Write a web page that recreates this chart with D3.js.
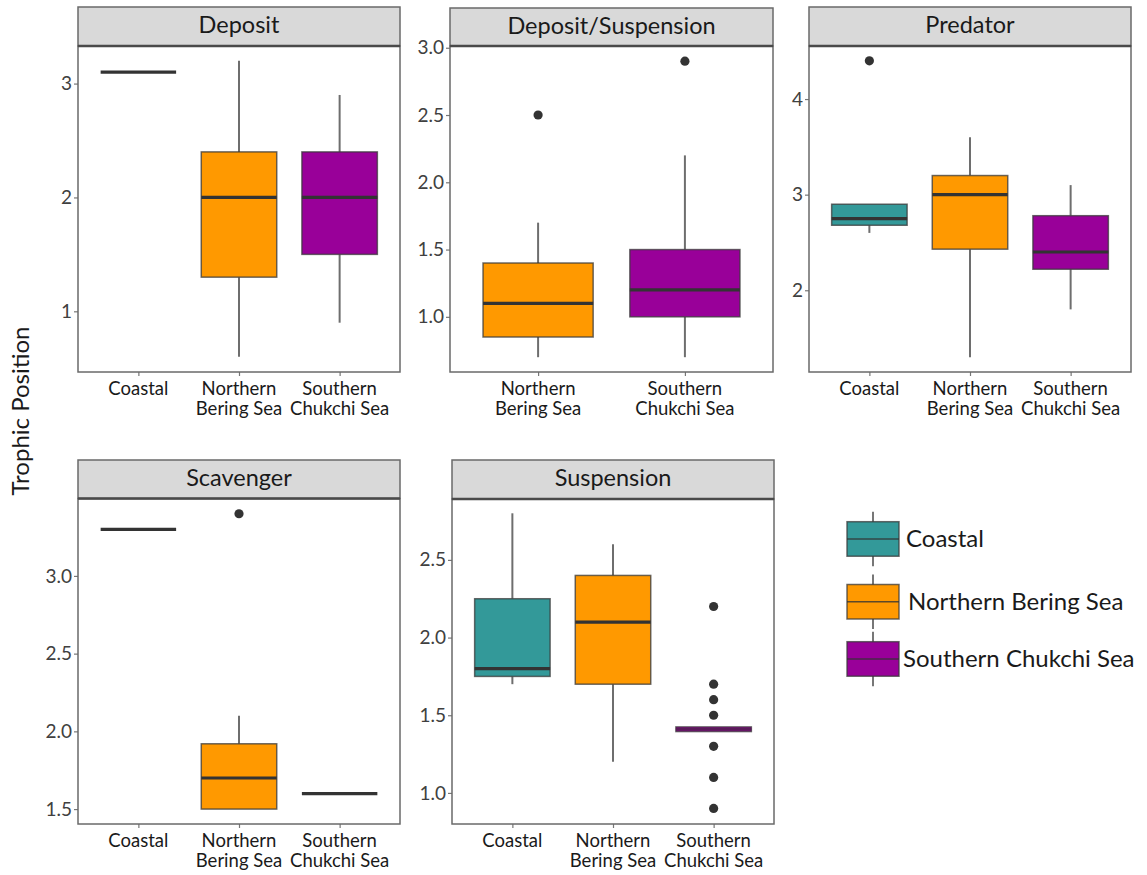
<!DOCTYPE html>
<html>
<head>
<meta charset="utf-8">
<script src="https://cdn.jsdelivr.net/npm/d3@7"></script>
<style>
  html, body { margin: 0; padding: 0; background: #fff; }
  svg { display: block; font-family: Lato, "Open Sans", sans-serif; }
</style>
</head>
<body>
<svg id="chart" width="1147" height="875"></svg>
<script>
// ---------- DATA ----------
const regions = ["Coastal", "Northern Bering Sea", "Southern Chukchi Sea"];
const regionColors = ["#339999", "#FF9900", "#990099"];
const facetNames = ["Deposit", "Deposit/Suspension", "Predator", "Scavenger", "Suspension"];

// box stats: [lower whisker, q1, median, q3, upper whisker]
const depositGroups = ["Coastal", "Northern Bering Sea", "Southern Chukchi Sea"];
const depositStats = [[3.1, 3.1, 3.1, 3.1, 3.1], [0.6, 1.3, 2.0, 2.4, 3.2], [0.9, 1.5, 2.0, 2.4, 2.9]];
const depositOutliers = [[], [], []];
const depositTicks = [1, 2, 3];

const depSuspGroups = ["Northern Bering Sea", "Southern Chukchi Sea"];
const depSuspStats = [[0.7, 0.85, 1.1, 1.4, 1.7], [0.7, 1.0, 1.2, 1.5, 2.2]];
const depSuspOutliers = [[2.5], [2.9]];
const depSuspTicks = [1.0, 1.5, 2.0, 2.5, 3.0];

const predatorGroups = ["Coastal", "Northern Bering Sea", "Southern Chukchi Sea"];
const predatorStats = [[2.6, 2.68, 2.75, 2.9, 2.9], [1.3, 2.43, 3.0, 3.2, 3.6], [1.8, 2.22, 2.4, 2.78, 3.1]];
const predatorOutliers = [[4.4], [], []];
const predatorTicks = [2, 3, 4];

const scavengerGroups = ["Coastal", "Northern Bering Sea", "Southern Chukchi Sea"];
const scavengerStats = [[3.3, 3.3, 3.3, 3.3, 3.3], [1.5, 1.5, 1.7, 1.92, 2.1], [1.6, 1.6, 1.6, 1.6, 1.6]];
const scavengerOutliers = [[], [3.4], []];
const scavengerTicks = [1.5, 2.0, 2.5, 3.0];

const suspensionGroups = ["Coastal", "Northern Bering Sea", "Southern Chukchi Sea"];
const suspensionStats = [[1.7, 1.75, 1.8, 2.25, 2.8], [1.2, 1.7, 2.1, 2.4, 2.6], [1.395, 1.395, 1.41, 1.425, 1.425]];
const suspensionOutliers = [[], [], [2.2, 1.7, 1.6, 1.5, 1.3, 1.1, 0.9]];
const suspensionTicks = [1.0, 1.5, 2.0, 2.5];

const yAxisTitle = "Trophic Position";

// ---------- LAYOUT ----------
const panels = [
  { name: facetNames[0], groups: depositGroups, stats: depositStats, outliers: depositOutliers, ticks: depositTicks, fmt: d3.format("d"),
    x0: 78, x1: 400, sTop: 7, pTop: 46, pBot: 372, y: [0.467, 3.33] },
  { name: facetNames[1], groups: depSuspGroups, stats: depSuspStats, outliers: depSuspOutliers, ticks: depSuspTicks, fmt: d3.format(".1f"),
    x0: 450, x1: 773, sTop: 8, pTop: 46, pBot: 372, y: [0.59, 3.013] },
  { name: facetNames[2], groups: predatorGroups, stats: predatorStats, outliers: predatorOutliers, ticks: predatorTicks, fmt: d3.format("d"),
    x0: 809, x1: 1131, sTop: 7, pTop: 46, pBot: 372, y: [1.145, 4.555] },
  { name: facetNames[3], groups: scavengerGroups, stats: scavengerStats, outliers: scavengerOutliers, ticks: scavengerTicks, fmt: d3.format(".1f"),
    x0: 78, x1: 400, sTop: 460, pTop: 498.5, pBot: 824, y: [1.404, 3.498] },
  { name: facetNames[4], groups: suspensionGroups, stats: suspensionStats, outliers: suspensionOutliers, ticks: suspensionTicks, fmt: d3.format(".1f"),
    x0: 452, x1: 774, sTop: 460, pTop: 499, pBot: 824, y: [0.80, 2.892] }
];

const color = d3.scaleOrdinal().domain(regions).range(regionColors);
const svg = d3.select("#chart");

const labelLines = {
  "Coastal": ["Coastal"],
  "Northern Bering Sea": ["Northern", "Bering Sea"],
  "Southern Chukchi Sea": ["Southern", "Chukchi Sea"]
};

panels.forEach(p => {
  const g = svg.append("g");
  const x = d3.scalePoint().domain(p.groups).range([p.x0, p.x1]).padding(0.6);
  const y = d3.scaleLinear().domain(p.y).range([p.pBot, p.pTop]);
  const bw = x.step() * 0.75;

  g.append("rect").attr("x", p.x0).attr("y", p.pTop).attr("width", p.x1 - p.x0).attr("height", p.pBot - p.pTop)
    .attr("fill", "#fff");

  // y axis
  const yAxis = d3.axisLeft(y).tickValues(p.ticks).tickFormat(p.fmt).tickSize(4).tickPadding(2);
  const ya = g.append("g").attr("transform", `translate(${p.x0},0)`).call(yAxis);
  ya.select(".domain").remove();
  ya.selectAll(".tick line").attr("stroke", "#777").attr("stroke-width", 1.2);
  ya.selectAll(".tick text").attr("fill", "#404040").style("font-size", "19px").style("font-family", "Lato, sans-serif");

  // x axis
  const xAxis = d3.axisBottom(x).tickSize(4).tickFormat("");
  const xa = g.append("g").attr("transform", `translate(0,${p.pBot})`).call(xAxis);
  xa.select(".domain").remove();
  xa.selectAll(".tick line").attr("stroke", "#777").attr("stroke-width", 1.2);
  p.groups.forEach(grp => {
    const lines = labelLines[grp];
    const t = g.append("text").attr("x", x(grp)).attr("y", p.pBot + 23)
      .attr("text-anchor", "middle").attr("fill", "#1a1a1a").style("font-size", "18.5px");
    lines.forEach((ln, i) => {
      t.append("tspan").attr("x", x(grp)).attr("dy", i === 0 ? 0 : 20).text(ln);
    });
  });

  // boxes
  p.groups.forEach((grp, i) => {
    const s = p.stats[i];
    const cx = x(grp);
    if (s[4] > s[3]) g.append("line").attr("x1", cx).attr("x2", cx).attr("y1", y(s[3])).attr("y2", y(s[4]))
      .attr("stroke", "#6e6e6e").attr("stroke-width", 2);
    if (s[0] < s[1]) g.append("line").attr("x1", cx).attr("x2", cx).attr("y1", y(s[1])).attr("y2", y(s[0]))
      .attr("stroke", "#6e6e6e").attr("stroke-width", 2);
    g.append("rect").attr("x", cx - bw / 2).attr("y", y(s[3])).attr("width", bw)
      .attr("height", Math.max(0, y(s[1]) - y(s[3])))
      .attr("fill", color(grp)).attr("stroke", "#3a3a3a").attr("stroke-opacity", 0.75).attr("stroke-width", 1.5);
    g.append("line").attr("x1", cx - bw / 2).attr("x2", cx + bw / 2).attr("y1", y(s[2])).attr("y2", y(s[2]))
      .attr("stroke", grp === "Southern Chukchi Sea" && s[3] - s[1] < 0.05 && s[3] !== s[1] ? "#5a1a5a" : "#333")
      .attr("stroke-width", 3.2);
    p.outliers[i].forEach(v => {
      g.append("circle").attr("cx", cx).attr("cy", y(v)).attr("r", 4.6).attr("fill", "#333");
    });
  });

  // panel border
  g.append("rect").attr("x", p.x0).attr("y", p.pTop).attr("width", p.x1 - p.x0).attr("height", p.pBot - p.pTop)
    .attr("fill", "none").attr("stroke", "#6a6a6a").attr("stroke-width", 1.5);

  // strip
  g.append("rect").attr("x", p.x0).attr("y", p.sTop).attr("width", p.x1 - p.x0).attr("height", p.pTop - p.sTop)
    .attr("fill", "#d9d9d9").attr("stroke", "#6a6a6a").attr("stroke-width", 1.5);
  g.append("line").attr("x1", p.x0).attr("x2", p.x1).attr("y1", p.pTop).attr("y2", p.pTop)
    .attr("stroke", "#4a4a4a").attr("stroke-width", 2.5);
  g.append("text").attr("x", (p.x0 + p.x1) / 2).attr("y", (p.sTop + p.pTop) / 2 + 6.5)
    .attr("text-anchor", "middle").attr("fill", "#1a1a1a").style("font-size", "23.5px").text(p.name);
});

// y axis title
svg.append("text").attr("transform", "translate(28.5,411) rotate(-90)").attr("text-anchor", "middle")
  .attr("fill", "#1a1a1a").style("font-size", "24px").text(yAxisTitle);

// legend
const legendTops = [521.7, 584.5, 641.7];
const legendBoxH = 34.5;
const legendX = 847, legendW = 52;
const legendTextX = [906, 908, 903];
const lg = svg.append("g");
regions.forEach((r, i) => {
  const top = legendTops[i];
  const cx = legendX + legendW / 2;
  lg.append("line").attr("x1", cx).attr("x2", cx).attr("y1", top - 10).attr("y2", top + legendBoxH + 10)
    .attr("stroke", "#777").attr("stroke-width", 2);
  lg.append("rect").attr("x", legendX).attr("y", top).attr("width", legendW).attr("height", legendBoxH)
    .attr("fill", color(r)).attr("stroke", "#3a3a3a").attr("stroke-opacity", 0.75).attr("stroke-width", 1.5);
  lg.append("line").attr("x1", legendX).attr("x2", legendX + legendW).attr("y1", top + legendBoxH / 2).attr("y2", top + legendBoxH / 2)
    .attr("stroke", "#333").attr("stroke-opacity", 0.8).attr("stroke-width", 1.5);
  lg.append("text").attr("x", legendTextX[i]).attr("y", top + legendBoxH / 2 + 8)
    .attr("fill", "#1a1a1a").style("font-size", "24px").text(r);
});
</script>
</body>
</html>
